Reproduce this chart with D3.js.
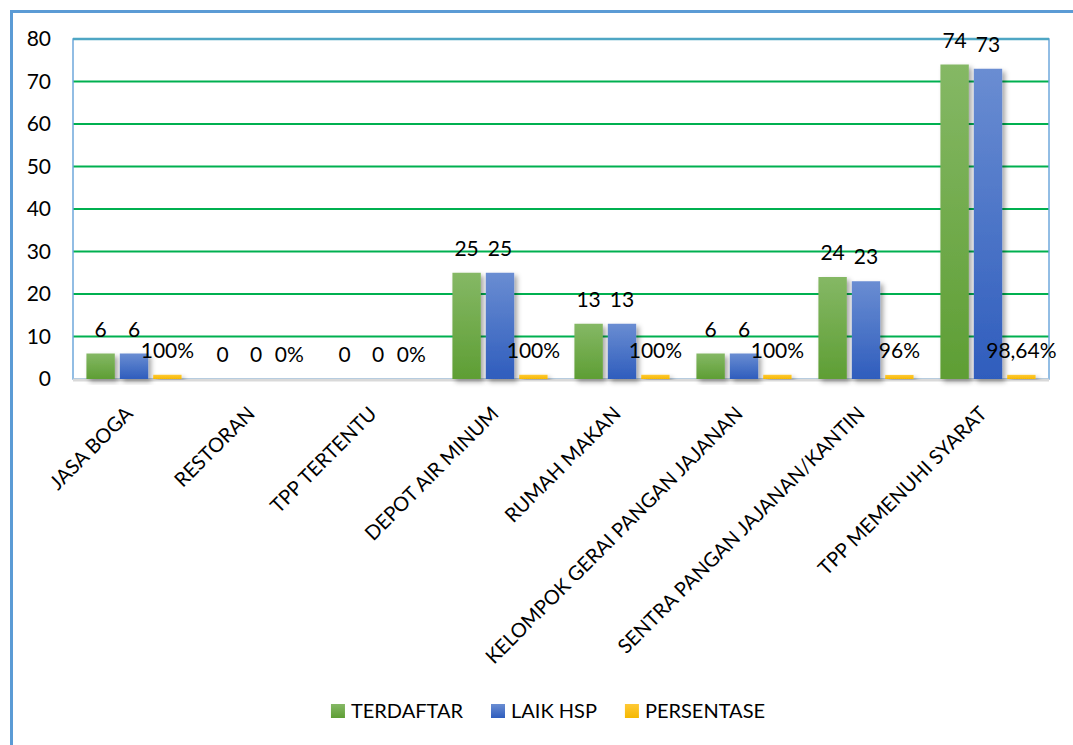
<!DOCTYPE html>
<html>
<head>
<meta charset="utf-8">
<script src="https://cdn.jsdelivr.net/npm/d3@7"></script>
<style>
  body { margin: 0; background: #fff; }
  text { font-family: Lato, "Open Sans", sans-serif; fill: #000; }
</style>
</head>
<body>
<script>
const categories = [
  'JASA BOGA', 'RESTORAN', 'TPP TERTENTU', 'DEPOT AIR MINUM', 'RUMAH MAKAN',
  'KELOMPOK GERAI PANGAN JAJANAN', 'SENTRA PANGAN JAJANAN/KANTIN', 'TPP MEMENUHI SYARAT'
];
const terdaftar = [6, 0, 0, 25, 13, 6, 24, 74];
const laikHsp = [6, 0, 0, 25, 13, 6, 23, 73];
const persentase = [1, 0, 0, 1, 1, 1, 0.96, 0.9864];
const yTicks = [0, 10, 20, 30, 40, 50, 60, 70, 80];
const seriesNames = ['TERDAFTAR', 'LAIK HSP', 'PERSENTASE'];

const W = 1073, H = 745;
const plot = { left: 73, right: 1049, top: 39, bottom: 379 };

const pct = d3.formatLocale({ decimal: ',', thousands: '.', grouping: [3], currency: ['', ''] }).format('~%');

const series = [
  { name: seriesNames[0], values: terdaftar, fill: 'gGreen', fmt: d => d },
  { name: seriesNames[1], values: laikHsp, fill: 'gBlue', fmt: d => d },
  { name: seriesNames[2], values: persentase, fill: 'gYellow', fmt: pct }
];

const svg = d3.select('body').append('svg')
  .attr('width', W).attr('height', H);

const defs = svg.append('defs');
const grad = (id, top, bottom) => {
  const g = defs.append('linearGradient').attr('id', id)
    .attr('x1', 0).attr('y1', 0).attr('x2', 0).attr('y2', 1);
  g.append('stop').attr('offset', '0%').attr('stop-color', top);
  g.append('stop').attr('offset', '100%').attr('stop-color', bottom);
};
grad('gGreen', '#85b865', '#5e9e34');
grad('gBlue', '#6a8dd2', '#2f5dbd');
grad('gYellow', '#ffc935', '#f5b800');

const shadow = defs.append('filter').attr('id', 'shadow')
  .attr('x', '-20%').attr('y', '-20%').attr('width', '160%').attr('height', '140%');
shadow.append('feDropShadow').attr('dx', 3).attr('dy', 3)
  .attr('stdDeviation', 2.5).attr('flood-color', '#000').attr('flood-opacity', 0.35);

// outer chart border
svg.append('path')
  .attr('d', `M11.5,${H + 5}V11.5H${W + 5}`)
  .attr('fill', 'none').attr('stroke', '#5b9bd5').attr('stroke-width', 3);

const x0 = d3.scaleBand().domain(categories)
  .range([plot.left, plot.right]).paddingInner(0.22).paddingOuter(0.11);
const x1 = d3.scaleBand().domain(d3.range(3))
  .range([0, x0.bandwidth()]).paddingInner(0.15);
const y = d3.scaleLinear().domain([0, 80]).range([plot.bottom, plot.top]);

// gridlines
svg.append('g').selectAll('line')
  .data(yTicks.filter(t => t > 0 && t < 80))
  .join('line')
  .attr('x1', plot.left).attr('x2', plot.right)
  .attr('y1', d => y(d)).attr('y2', d => y(d))
  .attr('stroke', '#00b050').attr('stroke-width', 2);

// plot area border
svg.append('rect')
  .attr('x', plot.left).attr('y', plot.top)
  .attr('width', plot.right - plot.left).attr('height', plot.bottom - plot.top)
  .attr('fill', 'none').attr('stroke', '#6fa8dc').attr('stroke-width', 1.5);
svg.append('line')
  .attr('x1', plot.left).attr('x2', plot.right)
  .attr('y1', y(80)).attr('y2', y(80))
  .attr('stroke', '#4ea6c4').attr('stroke-width', 2.5);

// y axis labels
const yAxis = d3.axisLeft(y).tickValues(yTicks).tickSize(0).tickPadding(22);
svg.append('g')
  .attr('transform', `translate(${plot.left},0)`)
  .call(yAxis)
  .call(g => g.select('.domain').remove())
  .selectAll('text')
  .style('font-family', 'Lato, sans-serif')
  .attr('font-size', 21);

// baseline
svg.append('line')
  .attr('x1', plot.left).attr('x2', plot.right)
  .attr('y1', plot.bottom + 1).attr('y2', plot.bottom + 1)
  .attr('stroke', '#d9d9d9').attr('stroke-width', 3);

// bars
const groups = svg.append('g').selectAll('g')
  .data(categories)
  .join('g')
  .attr('transform', d => `translate(${x0(d)},0)`);

series.forEach((s, si) => {
  groups.append('rect')
    .attr('x', x1(si))
    .attr('width', x1.bandwidth())
    .attr('y', (d, i) => y(s.values[i]))
    .attr('height', (d, i) => plot.bottom - y(s.values[i]))
    .attr('fill', `url(#${s.fill})`)
    .attr('filter', (d, i) => s.values[i] > 0 ? 'url(#shadow)' : null);
});

// data labels
series.forEach((s, si) => {
  groups.append('text')
    .attr('x', x1(si) + x1.bandwidth() / 2)
    .attr('y', (d, i) => y(s.values[i]) - 17)
    .attr('text-anchor', 'middle')
    .attr('font-size', 21)
    .text((d, i) => s.fmt(s.values[i]));
});

// category labels
svg.append('g').selectAll('text')
  .data(categories)
  .join('text')
  .attr('transform', d => `translate(${x0(d) + x0.bandwidth() / 2},415) rotate(-45)`)
  .attr('text-anchor', 'end')
  .attr('font-size', 20)
  .text(d => d);

// legend
const legend = svg.append('g');
let lx = 0;
series.forEach(s => {
  const item = legend.append('g').attr('transform', `translate(${lx},0)`);
  item.append('rect').attr('x', 0).attr('y', -14).attr('width', 14).attr('height', 14)
    .attr('fill', `url(#${s.fill})`);
  const t = item.append('text').attr('x', 20).attr('y', 0).attr('font-size', 20).text(s.name);
  lx += 20 + t.node().getComputedTextLength() + 28;
});
const legendWidth = lx - 28;
legend.attr('transform', `translate(${548 - legendWidth / 2},718)`);
</script>
</body>
</html>
